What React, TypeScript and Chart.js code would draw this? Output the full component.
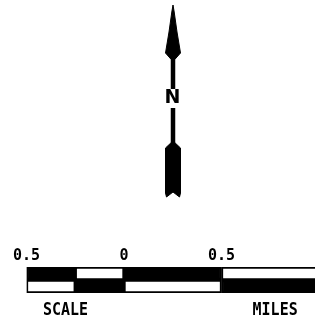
import React, { useEffect, useRef } from "react";
import { Chart, registerables } from "chart.js";

Chart.register(...registerables);

// ---- scale bar data (miles) ----
const rowLabels = ["upper", "lower"];
const segmentEdges = [-0.5, -0.25, 0, 0.5, 1];
const upperRowFill = ["#000000", "#ffffff", "#000000", "#ffffff"];
const lowerRowFill = ["#ffffff", "#000000", "#ffffff", "#000000"];
const tickValues = [-0.5, 0, 0.5, 1];
const tickLabels = ["0.5", "0", "0.5", "1"];
const footerValues = [-0.3, 0.775];
const footerLabels = ["SCALE", "MILES"];

// ---- north arrow outline (x: offset from arrow axis, y: height above tail end) ----
const headX = [0, 1.2, 4, 6.5, 7.5, 2.2, -2.2, -7.5, -6.5, -4, -1.2, 0];
const headY = [192, 185, 165, 150, 144, 138, 138, 144, 150, 165, 185, 192];
const shaftUpperY = [140, 108];
const shaftLowerY = [89, 52];
const tailX = [-2.2, -7.5, -7.5, -6.5, 0, 6.5, 7.5, 7.5, 2.2, -2.2];
const tailY = [54, 49, 4, 0, 5, 0, 4, 49, 54, 54];
const northLabel = "N";
const northLabelY = 98.5;

function ScaleBar() {
  const ref = useRef<HTMLCanvasElement>(null);
  useEffect(() => {
    const datasets = upperRowFill.map((_, i) => ({
      data: [
        [segmentEdges[i], segmentEdges[i + 1]],
        [segmentEdges[i], segmentEdges[i + 1]],
      ],
      backgroundColor: [upperRowFill[i], lowerRowFill[i]],
      borderColor: "#000000",
      borderWidth: 2,
      borderSkipped: false,
      grouped: false,
      barPercentage: 1,
      categoryPercentage: 1,
    }));
    const footerPlugin = {
      id: "footerLabels",
      afterDraw(chart: any) {
        const { ctx, scales, chartArea } = chart;
        ctx.save();
        ctx.font = "bold 17px 'DejaVu Sans Mono'";
        ctx.textAlign = "center";
        ctx.textBaseline = "alphabetic";
        ctx.fillStyle = "#000000";
        footerValues.forEach((v, i) => {
          const px = scales.x.getPixelForValue(v);
          ctx.save();
          ctx.translate(px, chartArea.bottom + 22.3);
          ctx.scale(0.88, 1);
          ctx.fillText(footerLabels[i], 0, 0);
          ctx.restore();
        });
        ctx.restore();
      },
    };
    const chart = new Chart(ref.current as HTMLCanvasElement, {
      type: "bar",
      data: { labels: rowLabels, datasets: datasets as any },
      options: {
        indexAxis: "y",
        animation: false,
        responsive: true,
        maintainAspectRatio: false,
        events: [],
        layout: { padding: { left: 26.5, right: 41, top: 246, bottom: 30 } },
        plugins: { legend: { display: false }, tooltip: { enabled: false } },
        scales: {
          y: { display: false },
          x: {
            type: "linear",
            position: "top",
            min: -0.5,
            max: 1,
            grid: { display: false, drawTicks: false },
            border: { display: false },
            afterBuildTicks: (s: any) => {
              s.ticks = tickValues.map((v) => ({ value: v }));
            },
            afterFit: (s: any) => {
              s.height = 21;
            },
            ticks: {
              autoSkip: false,
              maxRotation: 0,
              padding: 2,
              color: "#000000",
              font: { family: "DejaVu Sans Mono", size: 15, weight: "bold" },
              callback: (_v: any, i: number) => tickLabels[i],
            },
          },
        },
      } as any,
      plugins: [footerPlugin],
    });
    return () => chart.destroy();
  }, []);
  return (
    <div style={{ position: "absolute", left: 0, top: 0, width: 360, height: 323 }}>
      <canvas ref={ref} />
    </div>
  );
}

function NorthArrow() {
  const ref = useRef<HTMLCanvasElement>(null);
  useEffect(() => {
    const pts = (xs: number[], ys: number[]) => xs.map((x, i) => ({ x, y: ys[i] }));
    const labelPlugin = {
      id: "northLabel",
      afterDatasetsDraw(chart: any) {
        const { ctx, scales } = chart;
        const px = scales.x.getPixelForValue(-0.5);
        const py = scales.y.getPixelForValue(northLabelY);
        ctx.save();
        ctx.font = "bold 19px 'DejaVu Sans'";
        ctx.textAlign = "center";
        ctx.textBaseline = "middle";
        ctx.fillStyle = "#000000";
        ctx.fillText(northLabel, px, py);
        ctx.restore();
      },
    };
    const common = { pointRadius: 0, tension: 0, showLine: true, borderColor: "#000000", backgroundColor: "#000000" };
    const chart = new Chart(ref.current as HTMLCanvasElement, {
      type: "scatter",
      data: {
        datasets: [
          { ...common, data: pts(headX, headY), fill: "shape", borderWidth: 1 },
          { ...common, data: pts([0, 0], shaftUpperY), fill: false, borderWidth: 4.5, borderCapStyle: "butt" },
          { ...common, data: pts([0, 0], shaftLowerY), fill: false, borderWidth: 4.5, borderCapStyle: "butt" },
          { ...common, data: pts(tailX, tailY), fill: "shape", borderWidth: 1 },
        ] as any,
      },
      options: {
        animation: false,
        responsive: true,
        maintainAspectRatio: false,
        events: [],
        layout: { padding: 0 },
        plugins: { legend: { display: false }, tooltip: { enabled: false } },
        scales: {
          x: { type: "linear", display: false, min: -33, max: 33 },
          y: { type: "linear", display: false, min: -3, max: 197 },
        },
      } as any,
      plugins: [labelPlugin],
    });
    return () => chart.destroy();
  }, []);
  return (
    <div style={{ position: "absolute", left: 140, top: 0, width: 66, height: 200 }}>
      <canvas ref={ref} />
    </div>
  );
}

export default function App() {
  return (
    <div
      style={{
        position: "absolute",
        left: 0,
        top: 0,
        width: 315,
        height: 323,
        overflow: "hidden",
        background: "#ffffff",
      }}
    >
      <ScaleBar />
      <NorthArrow />
    </div>
  );
}
